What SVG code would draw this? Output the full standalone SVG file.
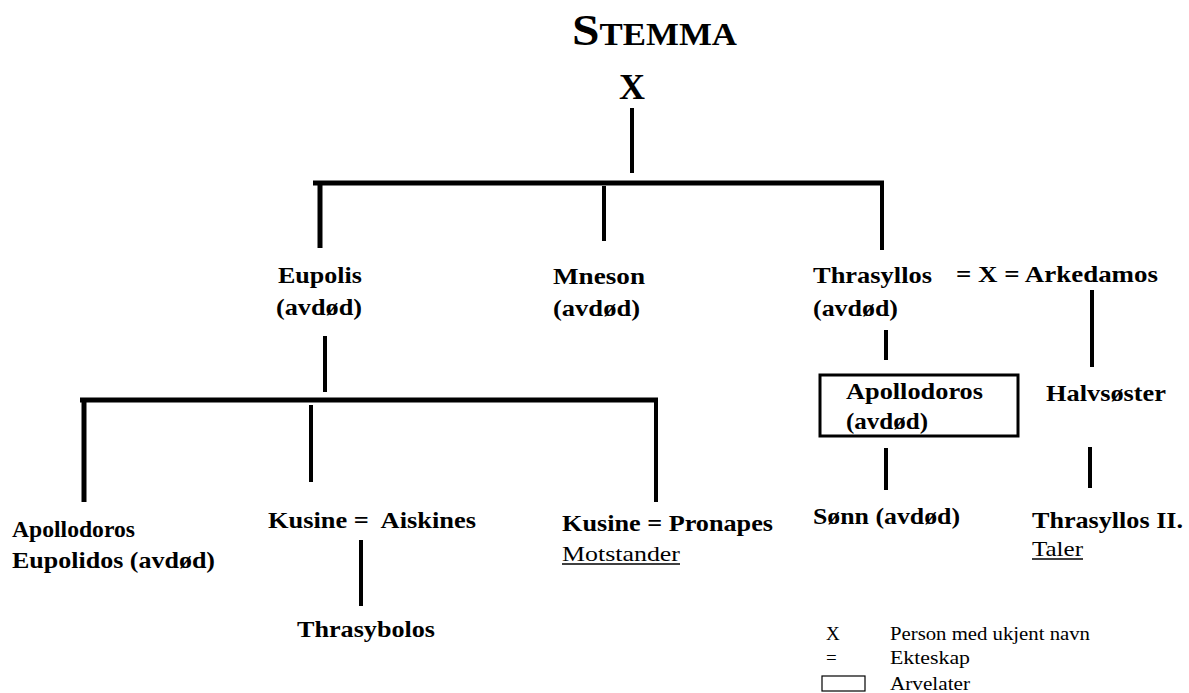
<svg xmlns="http://www.w3.org/2000/svg" width="1189" height="693" viewBox="0 0 1189 693">
<style>
.b{font-family:"Liberation Serif","Times New Roman",serif;font-weight:bold;font-size:24px;fill:#000}
.r{font-family:"Liberation Serif","Times New Roman",serif;font-size:22px;fill:#000}
.l{font-family:"Liberation Serif","Times New Roman",serif;font-size:18px;fill:#000}
.ln{stroke:#000;stroke-width:4;fill:none;stroke-linecap:butt}
.thick{stroke-width:5}
.u{stroke:#000;stroke-width:1.5}
</style>
<rect width="1189" height="693" fill="#fff"/>
<g id="title">
<text x="572" y="45" font-family="Liberation Serif, serif" font-weight="bold" font-size="44" textLength="165" lengthAdjust="spacingAndGlyphs">S<tspan font-size="31">TEMMA</tspan></text>
</g>
<g id="root"><text x="632" y="99" style="font-family:'Liberation Serif',serif;font-weight:bold;font-size:36px" text-anchor="middle">X</text></g>
<g id="connectors">
<line class="ln" x1="632" y1="108" x2="632" y2="173"/>
<line class="ln thick" x1="313" y1="183" x2="884" y2="183"/>
<line class="ln thick" x1="320" y1="183" x2="320" y2="248"/>
<line class="ln" x1="604" y1="186" x2="604" y2="241"/>
<line class="ln" x1="882" y1="183" x2="882" y2="250"/>
<line class="ln" x1="325" y1="336" x2="325" y2="392"/>
<line class="ln thick" x1="80" y1="400" x2="658" y2="400"/>
<line class="ln thick" x1="84" y1="400" x2="84" y2="502"/>
<line class="ln" x1="311" y1="405" x2="311" y2="482"/>
<line class="ln" x1="656" y1="402" x2="656" y2="502"/>
<line class="ln" x1="361" y1="540" x2="361" y2="606"/>
<line class="ln" x1="886" y1="330" x2="886" y2="360"/>
<line class="ln" x1="886" y1="448" x2="886" y2="490"/>
<line class="ln" x1="1092" y1="290" x2="1092" y2="367"/>
<line class="ln" x1="1090" y1="447" x2="1090" y2="488"/>
</g>
<g id="eupolis"><text class="b" x="278" y="283" textLength="84" lengthAdjust="spacingAndGlyphs">Eupolis</text><text class="b" x="276" y="315" textLength="86" lengthAdjust="spacingAndGlyphs">(avdød)</text></g>
<g id="mneson"><text class="b" x="553" y="284" textLength="92" lengthAdjust="spacingAndGlyphs">Mneson</text><text class="b" x="553" y="316" textLength="87" lengthAdjust="spacingAndGlyphs">(avdød)</text></g>
<g id="thrasyllos"><text class="b" x="813" y="283" textLength="119" lengthAdjust="spacingAndGlyphs">Thrasyllos</text><text class="b" x="813" y="316" textLength="85" lengthAdjust="spacingAndGlyphs">(avdød)</text></g>
<g id="arkedamos"><text class="b" x="956" y="282" textLength="202" lengthAdjust="spacingAndGlyphs">= X = Arkedamos</text></g>
<g id="apollodoros-eupolidos"><text class="b" x="12" y="537" textLength="123" lengthAdjust="spacingAndGlyphs">Apollodoros</text><text class="b" x="12" y="568" textLength="203" lengthAdjust="spacingAndGlyphs">Eupolidos (avdød)</text></g>
<g id="kusine-aiskines"><text class="b" x="268" y="528" textLength="208" lengthAdjust="spacingAndGlyphs" xml:space="preserve">Kusine =  Aiskines</text></g>
<g id="thrasybolos"><text class="b" x="297" y="637" textLength="138" lengthAdjust="spacingAndGlyphs">Thrasybolos</text></g>
<g id="kusine-pronapes"><text class="b" x="562" y="531" textLength="211" lengthAdjust="spacingAndGlyphs">Kusine = Pronapes</text><text class="r" x="562" y="561" textLength="118" lengthAdjust="spacingAndGlyphs">Motstander</text><line class="u" x1="562" y1="564" x2="680" y2="564"/></g>
<g id="apollodoros"><rect x="820" y="375" width="198" height="61" fill="none" stroke="#000" stroke-width="3"/><text class="b" x="846" y="399" textLength="137" lengthAdjust="spacingAndGlyphs">Apollodoros</text><text class="b" x="846" y="429" textLength="82" lengthAdjust="spacingAndGlyphs">(avdød)</text></g>
<g id="halvsoster"><text class="b" x="1046" y="401" textLength="120" lengthAdjust="spacingAndGlyphs">Halvsøster</text></g>
<g id="sonn"><text class="b" x="813" y="524" textLength="147" lengthAdjust="spacingAndGlyphs">Sønn (avdød)</text></g>
<g id="thrasyllos2"><text class="b" x="1032" y="528" textLength="151" lengthAdjust="spacingAndGlyphs">Thrasyllos II.</text><text class="r" x="1032" y="556" textLength="51" lengthAdjust="spacingAndGlyphs">Taler</text><line class="u" x1="1032" y1="559" x2="1083" y2="559"/></g>
<g id="legend">
<text class="l" x="826" y="640" style="font-size:19px">X</text><text class="l" x="890" y="640" textLength="200" lengthAdjust="spacingAndGlyphs">Person med ukjent navn</text>
<text class="l" x="826" y="664" style="font-size:19px">=</text><text class="l" x="890" y="664" textLength="80" lengthAdjust="spacingAndGlyphs">Ekteskap</text>
<rect x="822" y="676" width="43" height="15" fill="none" stroke="#000" stroke-width="1.2"/><text class="l" x="890" y="690" textLength="80" lengthAdjust="spacingAndGlyphs">Arvelater</text>
</g>
</svg>
